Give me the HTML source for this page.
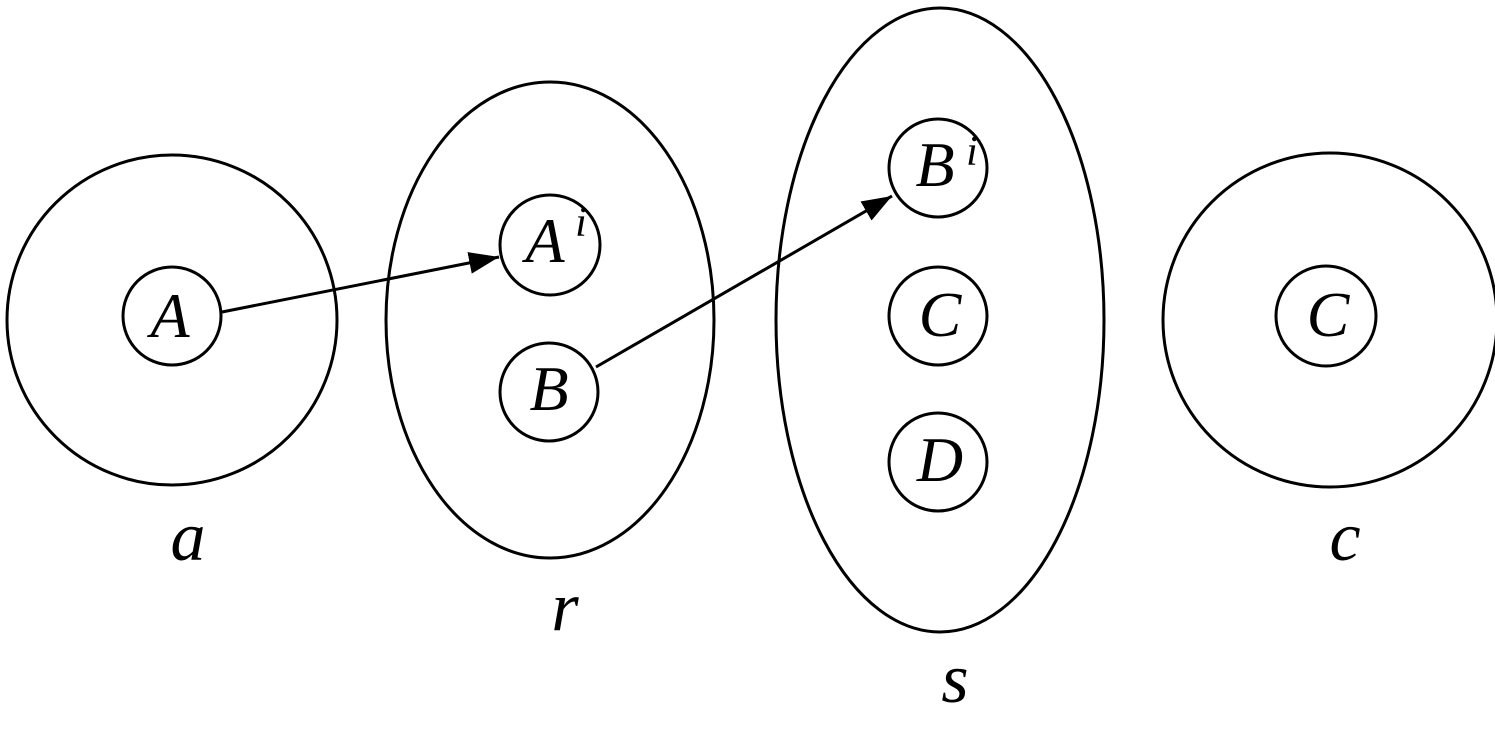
<!DOCTYPE html>
<html><head><style>html,body{margin:0;padding:0;background:#fff;}</style></head>
<body>
<svg width="1495" height="726" viewBox="0 0 1495 726" xmlns="http://www.w3.org/2000/svg">
<defs>
<marker id="a2" viewBox="0 0 30 22" refX="30" refY="11" markerWidth="30" markerHeight="22" orient="auto" markerUnits="userSpaceOnUse"><path d="M0,0 L30,11 L0,22z" fill="#000"/></marker></defs>
<g fill="none" stroke="#000" stroke-width="3">
<circle cx="172" cy="320" r="165"/>
<circle cx="172" cy="316" r="49"/>
<ellipse cx="550" cy="320" rx="164" ry="238"/>
<circle cx="550" cy="245" r="50"/>
<circle cx="549" cy="392" r="49"/>
<ellipse cx="940" cy="320" rx="164" ry="312"/>
<circle cx="938" cy="168" r="49"/>
<circle cx="938" cy="316" r="49"/>
<circle cx="938" cy="462" r="49"/>
<circle cx="1330" cy="320" r="167"/>
<circle cx="1326" cy="316" r="50"/>
<line x1="222" y1="312" x2="499" y2="257" marker-end="url(#a2)"/>
<line x1="596" y1="367" x2="892" y2="196" marker-end="url(#a2)"/>
</g>
<g font-family="'Liberation Serif',serif" font-style="italic" font-size="64" fill="#000" text-anchor="middle">
<text x="170" y="337">A</text>
<text x="545" y="262">A</text><text x="581" y="236" font-size="42">i</text>
<text x="549" y="410">B</text>
<text x="935" y="186">B</text><text x="972" y="165" font-size="42">i</text>
<text x="940" y="336">C</text>
<text x="940" y="481">D</text>
<text x="1328" y="336">C</text>
<text x="188" y="560" font-size="70">a</text>
<text x="565" y="630" font-size="70">r</text>
<text x="955" y="702" font-size="70">s</text>
<text x="1345" y="560" font-size="70">c</text>
</g>
</svg>
</body></html>
